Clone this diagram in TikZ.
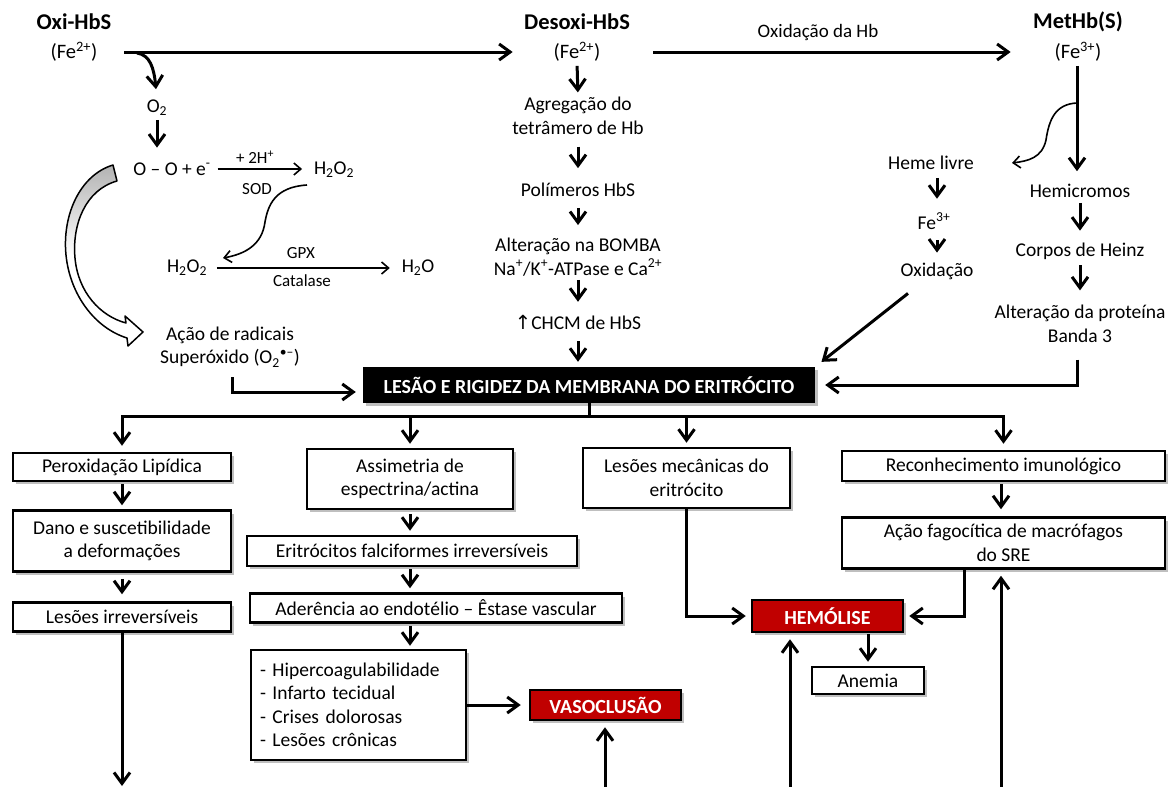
\documentclass[tikz,border=0pt]{standalone}
\usepackage{fontspec}
\setmainfont{Carlito}
\newfontfamily\dvsfont{DejaVu Sans}
\usetikzlibrary{arrows.meta,shadows,calc}
\definecolor{hred}{HTML}{C00000}
\begin{document}
\begin{tikzpicture}[x=1pt,y=-1pt,
  txt/.style={font=\fontsize{19.5}{23.5}\selectfont, align=center, inner sep=0pt, outer sep=0pt},
  small/.style={font=\fontsize{17}{20}\selectfont, inner sep=0pt, outer sep=0pt},
  ttl/.style={font=\fontsize{22.5}{26}\selectfont\bfseries, inner sep=0pt},
  arr/.style={line width=3pt, -{Straight Barb[length=11pt,width=16pt]}},
  thinarr/.style={line width=1.6pt, -{Straight Barb[length=7pt,width=12pt]}},
  ln/.style={line width=3pt},
  gap/.style 2 args={shorten <=#1, shorten >=#2},
  box/.style={draw, line width=2.5pt, fill=white, align=center, inner sep=0pt,
    font=\fontsize{19.5}{23.5}\selectfont,
    drop shadow={shadow xshift=3pt, shadow yshift=-3pt, fill=black, opacity=0.25}},
  redbox/.style={box, fill=hred, text=white, font=\fontsize{20}{24}\selectfont\bfseries},
]
\useasboundingbox (0,0) rectangle (1168,787);

% ---------- top row ----------
\node[ttl] (oxi) at (74,22) {Oxi-HbS};
\node[txt, font=\fontsize{20.5}{24}\selectfont] (oxife) at (74,52) {(Fe\textsuperscript{2+})};
\node[ttl] (desoxi) at (577,22) {Desoxi-HbS};
\node[txt, font=\fontsize{20.5}{24}\selectfont] (desfe) at (577,52) {(Fe\textsuperscript{2+})};
\node[ttl] (methb) at (1078,22) {MetHb(S)};
\node[txt, font=\fontsize{20.5}{24}\selectfont] (metfe) at (1078,52) {(Fe\textsuperscript{3+})};
\node[txt, font=\fontsize{19}{22}\selectfont] (oxhb) at (818,32) {Oxidação da Hb};

\draw[arr, gap={27pt}{41pt}] (oxife.east) -- (desfe.west);
\draw[arr, gap={53pt}{44pt}] (desfe.east) -- (metfe.west);

% ---------- left: oxygen chemistry ----------
\node[txt] (o2) at (157,108) {O\textsubscript{2}};
\coordinate (br1) at (137,53);
\draw[arr, gap={0pt}{11pt}] (br1) .. controls (150,55) and (154,68) .. (o2.north);
\node[txt] (oo) at (172,169) {O – O + e\textsuperscript{-}};
\draw[arr, gap={4pt}{15pt}] (o2.south) -- (o2.south |- oo.north);
\node[txt] (h2o2a) at (334,170) {H\textsubscript{2}O\textsubscript{2}};
\draw[thinarr, gap={7pt}{12pt}] (oo.east) -- (oo.east -| h2o2a.west);
\node[small] (lh) at (255,157) {+ 2H\textsuperscript{+}};
\node[small] (lsod) at (257,189) {SOD};

\node[txt] (h2o2b) at (187,268) {H\textsubscript{2}O\textsubscript{2}};
\node[txt] (h2o) at (418,268) {H\textsubscript{2}O};
\coordinate (sc1) at (307,185);
\coordinate (sc2) at (223,258);
\draw[thinarr] (sc1) .. controls (275,187) and (268,205) .. (265,222)
                     .. controls (262,245) and (245,254) .. (sc2);
\draw[thinarr, gap={10pt}{12pt}] (h2o2b.east) -- (h2o2b.east -| h2o.west);
\node[small] (gpx) at (301,253) {GPX};
\node[small] (cat) at (302,281) {Catalase};

\node[txt] (acao) at (230,347) {Ação de radicais\\Superóxido (O\textsubscript{2}\textsuperscript{\textbullet–})};

% hollow curved arrow
\path[draw=black, line width=1.5pt, line join=round, top color=gray!60, bottom color=white, middle color=white]
  (113,165) .. controls (80,175) and (62,215) .. (66,255)
  .. controls (70,295) and (95,328) .. (127,338)
  -- (128,346) -- (143,332) -- (125,316) -- (126,323)
  .. controls (100,316) and (78,292) .. (75,258)
  .. controls (72,225) and (85,190) .. (117,181) -- cycle;

% ---------- central box ----------
\node[fill=black, text=white, inner sep=0pt, minimum width=452, minimum height=36,
      font=\fontsize{20}{24}\selectfont\bfseries,
      drop shadow={shadow xshift=3pt, shadow yshift=-3pt, fill=black, opacity=0.25}]
      (lesao) at (589,385) {LESÃO E RIGIDEZ DA MEMBRANA DO ERITRÓCITO};

\draw[arr, gap={10pt}{7pt}] (acao.south -| 232,0) |- ([yshift=-7pt]lesao.west);

% ---------- middle column ----------
\node[txt] (agreg) at (578,116) {Agregação do\\tetrâmero de Hb};
\node[txt] (polim) at (578,190) {Polímeros HbS};
\node[txt] (bomba) at (578,257) {Alteração na BOMBA\\Na\textsuperscript{+}/K\textsuperscript{+}-ATPase e Ca\textsuperscript{2+}};
\node[txt] (chcm) at (578,322) {{\dvsfont\char"2191}CHCM de HbS};

\draw[arr, gap={4pt}{5pt}] (desfe.south) -- (agreg.north);
\draw[arr, gap={12pt}{15pt}] (agreg.south) -- (polim.north);
\draw[arr, gap={11pt}{13pt}] (polim.south) -- (bomba.north);
\draw[arr, gap={4pt}{13pt}] (bomba.south) -- (chcm.north);
\draw[arr, gap={12pt}{5pt}] (chcm.south) -- (chcm.south |- lesao.north);

% ---------- right column ----------
\node[txt] (heme) at (931,163) {Heme livre};
\node[txt] (hemi) at (1080,191) {Hemicromos};
\node[txt] (fe3) at (934,221) {Fe\textsuperscript{3+}};
\node[txt] (oxid) at (937,271) {Oxidação};
\node[txt] (corpos) at (1080,251) {Corpos de Heinz};
\node[txt] (banda) at (1080,324) {Alteração da proteína\\Banda 3};

\draw[arr, gap={4pt}{13pt}] (metfe.south -| 1077,0) -- (1077,0 |- hemi.north);
\coordinate (bh1) at (1077,103);
\coordinate (bh2) at (1012,163);
\draw[thinarr] (bh1) .. controls (1055,104) and (1049,120) .. (1046,140)
                    .. controls (1042,158) and (1028,161) .. (bh2);
\draw[arr, gap={8pt}{14pt}] (oxid.south |- heme.south) -- (oxid.south |- fe3.north);
\draw[arr, gap={11pt}{10pt}] (oxid.south |- fe3.south) -- (oxid.north);
\draw[arr, gap={5pt}{12pt}] (hemi.south) -- (corpos.north);
\draw[arr, gap={6pt}{15pt}] (corpos.south) -- (banda.north);
\draw[arr, gap={17pt}{10pt}] (banda.south -| 1077,0) |- (lesao.east);
\draw[arr, shorten >=8pt] ($(oxid.south)+(-29,14)$) -- (lesao.north east);

% ---------- lower boxes ----------
\node[box, minimum width=218, minimum height=28] (perox) at (122,467) {Peroxidação Lipídica};
\node[box, minimum width=218, minimum height=61] (dano) at (122,541) {Dano e suscetibilidade\\a deformações};
\node[box, minimum width=218, minimum height=29] (lesirr) at (122,617) {Lesões irreversíveis};

\node[box, minimum width=206, minimum height=60] (assim) at (410,479) {Assimetria de\\espectrina/actina};
\node[box, minimum width=330, minimum height=30] (erit) at (412,551) {Eritrócitos falciformes irreversíveis};
\node[box, minimum width=372, minimum height=29] (ader) at (436,608) {Aderência ao endotélio – Êstase vascular};
\node[box, minimum width=215, minimum height=110, text width=197, align=left] (list) at (358.5,705)
   {- Hipercoagulabilidade\\- Infarto tecidual\\- Crises dolorosas\\- Lesões crônicas};
\node[redbox, minimum width=151, minimum height=30] (vaso) at (605.5,705) {VASOCLUSÃO};

\node[box, minimum width=207, minimum height=60] (lesmec) at (686.5,478) {Lesões mecânicas do\\eritrócito};
\node[redbox, minimum width=151, minimum height=32] (hemo) at (827.5,616) {HEMÓLISE};
\node[box, minimum width=112, minimum height=27] (anemia) at (868,680.5) {Anemia};

\node[box, minimum width=323, minimum height=30] (recon) at (1003.5,466) {Reconhecimento imunológico};
\node[box, minimum width=323, minimum height=51] (fago) at (1003.5,543) {Ação fagocítica de macrófagos\\do SRE};

% fork
\draw[ln] (lesao.south) -- ++(0,13) coordinate (fk);
\draw[arr, shorten >=6pt] (fk) -| (perox.north);
\draw[arr, shorten >=4pt] (fk) -| (assim.north);
\draw[arr, shorten >=4pt] (fk) -| (lesmec.north);
\draw[arr, shorten >=6pt] (fk) -| (recon.north);

% left column
\draw[arr, gap={2pt}{4pt}] (perox.south) -- (dano.north);
\draw[arr, gap={6pt}{7pt}] (dano.south) -- (lesirr.north);
\coordinate (bl) at (122,786);
\draw[arr] (lesirr.south) -- (bl);

% second column
\draw[arr, gap={4pt}{4pt}] (assim.south) -- (assim.south |- erit.north);
\draw[arr, gap={2pt}{4pt}] (assim.south |- erit.south) -- (assim.south |- ader.north);
\draw[arr, gap={2pt}{3pt}] (assim.south |- ader.south) -- (assim.south |- list.north);
\draw[arr, shorten >=8pt] (list.east) -- (vaso.west);
\coordinate (bv) at (605,787);
\draw[arr, shorten >=6pt] (bv) -- (bv |- vaso.south);

% third column
\draw[arr, shorten >=5pt] (lesmec.south) |- (hemo.west);
\draw[arr, gap={1pt}{4pt}] (hemo.south -| anemia.north) -- (anemia.north);
\coordinate (bh) at (790,787);
\draw[arr, shorten >=6pt] (bh) -- (bh |- hemo.south);

% right column
\draw[arr, gap={2pt}{7pt}] (recon.south -| 1001,0) -- (1001,0 |- fago.north);
\draw[arr, shorten >=5pt] ($(fago.south west)+(124,0)$) |- (hemo.east);
\coordinate (br) at (1001,787);
\draw[arr, shorten >=6pt] (br) -- (br |- fago.south);
\end{tikzpicture}
\end{document}
